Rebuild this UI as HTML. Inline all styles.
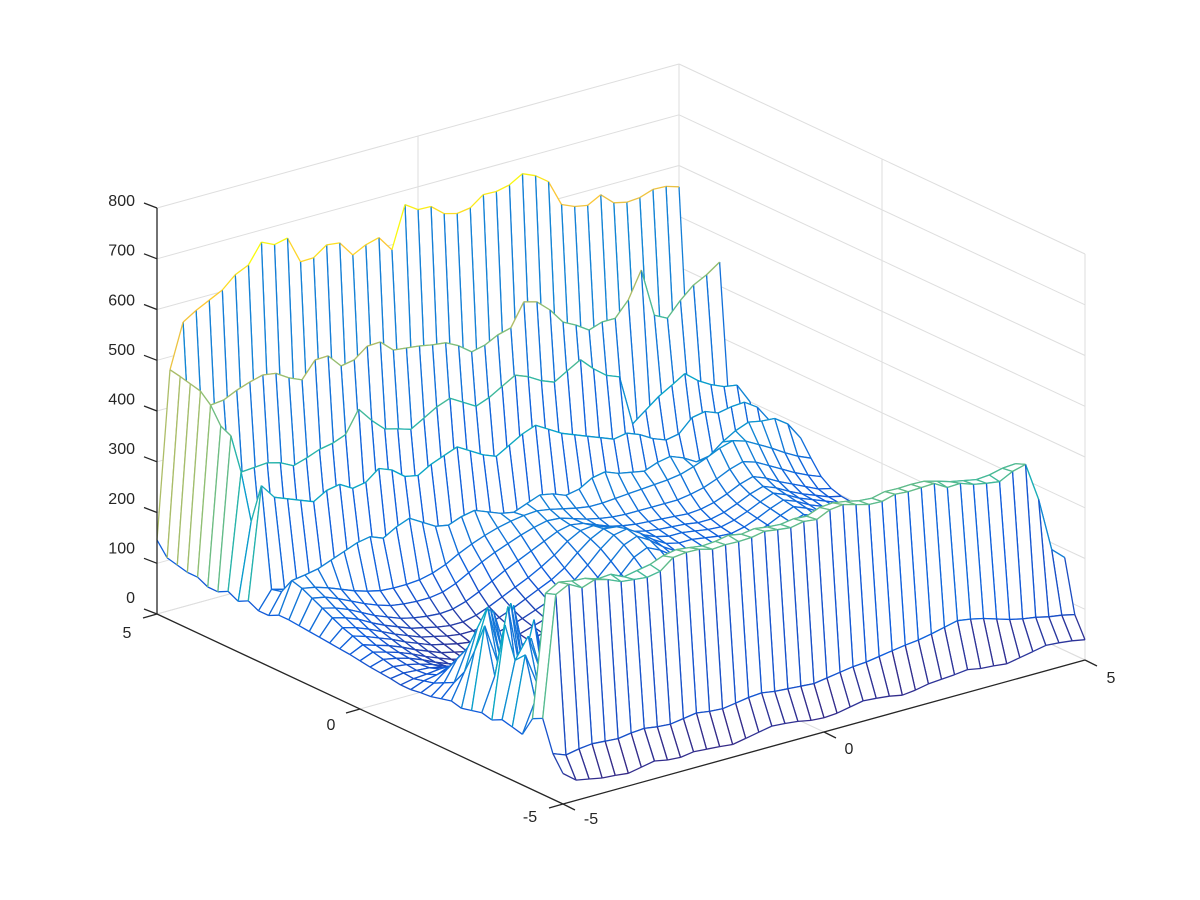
<!DOCTYPE html>
<html><head><meta charset="utf-8"><title>3D mesh surface</title>
<style>
html,body{margin:0;padding:0;background:#fff;}
svg{display:block;font-family:"Liberation Sans",Arial,sans-serif;}
</style></head>
<body>
<svg id="chart" width="1200" height="900" viewBox="0 0 1200 900" xmlns="http://www.w3.org/2000/svg">
<rect x="0" y="0" width="1200" height="900" fill="#fff"/>
<g id="grid"></g>
<g id="mesh"></g>
<g id="axes"></g>
</svg>
<script>
const xTicks = [-5, 0, 5];
const yTicks = [-5, 0, 5];
const zTicks = [0, 100, 200, 300, 400, 500, 600, 700, 800];
const xRange = [-5, 5];
const yRange = [-5, 5];
const zRange = [0, 800];
const zRows = [
[60,40,35,30,28,25,30,35,30,28,32,30,28,25,30,35,40,38,35,30,28,30,35,40,38,35,30,33,38,40,42,45,40,38,35,40,45,50,48,45,40],
[90,80,85,88,86,84,88,90,86,84,88,92,88,86,90,94,96,92,90,88,86,90,94,98,100,104,108,112,115,120,126,132,128,122,114,106,100,96,90,86,80],
[150,387,400,386,395,388,377,374,371,376,396,399,398,391,393,392,393,398,394,391,396,393,405,408,401,394,393,400,398,399,400,385,386,377,372,368,381,388,312,206,183],
[140,380,395,390,388,380,382,370,375,380,390,395,392,388,390,395,390,394,390,388,392,390,400,402,398,392,390,396,395,396,395,388,380,375,370,372,378,380,300,200,175],
[100,160,200,150,110,85,70,62,58,60,62,66,60,56,52,56,60,64,68,72,70,66,62,68,76,86,96,92,88,84,80,88,96,106,116,112,106,98,92,88,84],
[105,240,170,210,130,95,72,64,56,58,64,68,62,57,52,57,61,66,70,74,71,66,61,69,78,88,98,94,89,85,81,89,98,108,118,114,108,99,94,89,84],
[110,220,260,180,120,90,70,60,55,60,65,70,60,55,50,55,60,65,70,75,70,65,60,70,80,90,100,95,90,85,80,90,100,110,120,115,110,100,95,90,85],
[100,280,150,240,140,100,80,70,60,55,60,65,70,62,58,60,62,68,72,70,66,62,70,80,90,95,100,110,105,100,95,100,110,120,125,120,115,110,100,95,90],
[105,170,300,160,260,120,90,75,68,62,58,60,66,70,65,60,65,70,75,80,78,72,75,85,95,105,110,115,110,105,100,110,120,130,135,130,120,115,105,100,95],
[100,260,180,290,150,220,100,80,72,65,60,62,68,72,70,66,70,75,80,85,82,78,80,90,100,110,120,125,118,112,108,118,130,140,145,138,128,120,110,105,100],
[95,200,280,170,270,140,110,85,75,68,62,60,64,70,74,70,74,80,85,90,88,84,86,95,105,115,125,130,125,118,115,125,138,150,155,145,135,125,115,110,105],
[100,150,230,260,160,200,120,90,78,70,64,62,66,72,78,75,78,85,90,95,92,88,92,100,110,120,130,135,130,125,122,130,145,160,165,155,140,130,120,115,110],
[95,120,180,220,240,150,110,95,82,72,66,64,68,75,80,78,82,90,95,100,98,92,96,105,115,125,135,140,136,130,128,136,150,165,170,160,145,135,125,118,112],
[90,110,150,170,200,180,120,100,85,75,68,66,70,78,84,82,86,94,100,105,102,96,100,110,120,130,140,146,142,136,132,140,155,168,172,162,148,138,128,120,115],
[88,100,120,140,150,140,115,100,88,78,70,68,72,80,86,85,90,98,104,110,106,100,105,115,125,135,145,150,146,140,136,145,158,170,175,165,150,140,130,122,118],
[85,95,100,110,105,95,85,75,65,55,50,48,52,58,64,66,72,80,84,90,96,100,104,100,96,92,95,98,94,90,88,92,98,104,108,102,96,92,88,84,80],
[85,90,92,95,90,80,70,60,50,45,42,40,45,50,56,60,66,72,78,86,94,102,108,104,98,94,96,100,96,92,90,95,102,110,112,106,98,94,90,86,82],
[88,92,90,88,82,72,62,52,45,40,38,36,40,46,52,58,62,68,76,86,98,110,118,112,104,98,100,104,100,96,94,98,106,116,120,112,104,98,94,88,84],
[90,95,92,86,78,68,58,48,42,36,34,32,36,42,50,56,60,66,74,88,104,120,130,122,110,102,104,108,104,100,98,104,112,122,128,118,108,102,96,90,86],
[92,100,95,88,78,66,56,46,40,34,30,30,34,40,48,55,60,66,76,92,112,132,145,135,120,108,108,112,108,104,102,108,118,128,136,126,114,106,100,94,88],
[95,105,98,90,80,68,58,48,42,36,32,32,36,42,50,58,64,72,84,100,124,150,162,150,132,116,112,116,112,108,106,112,122,134,142,132,120,110,104,96,90],
[98,110,102,94,84,72,62,52,46,40,36,36,40,46,54,62,70,80,94,115,140,165,175,160,140,124,118,120,116,112,110,116,126,138,148,138,124,114,106,98,92],
[100,118,110,100,90,78,68,58,52,46,42,42,46,52,60,70,80,92,108,130,155,175,180,165,145,130,124,124,120,116,114,120,130,142,152,142,128,118,110,100,94],
[102,125,118,108,96,84,74,64,58,52,48,48,52,60,70,82,94,106,122,145,165,178,175,160,145,134,128,128,124,120,118,124,134,146,156,146,132,122,112,102,96],
[104,135,128,118,104,92,82,72,66,60,56,56,62,72,84,96,108,122,138,158,172,175,165,152,142,136,132,130,128,124,124,130,140,152,160,150,136,124,114,104,98],
[106,145,138,128,115,102,92,82,76,72,70,72,80,92,106,120,132,144,156,168,174,170,160,150,144,140,138,136,134,132,134,140,150,162,170,160,146,134,122,110,104],
[108,155,150,140,128,116,106,98,94,92,92,96,106,120,134,146,156,166,174,180,178,170,162,156,152,150,150,150,150,150,154,160,170,182,190,182,168,154,140,128,118],
[110,165,160,152,142,132,124,118,116,116,118,124,134,148,160,170,178,184,188,190,186,180,174,170,170,172,174,176,178,180,184,192,202,214,222,214,200,186,170,156,145],
[110,171,175,180,190,200,210,215,205,220,230,215,200,195,205,210,200,190,185,195,205,200,190,195,210,215,205,200,195,205,210,200,185,190,210,225,235,230,228,210,175],
[100,140,130,125,120,115,118,122,120,115,118,120,118,115,120,122,118,116,120,122,120,118,116,120,122,124,120,118,122,126,130,128,124,126,130,134,136,132,130,126,120],
[100,135,128,122,118,112,115,118,116,112,115,118,115,112,116,118,115,112,116,118,116,114,112,116,118,120,116,114,118,122,126,124,120,122,126,130,132,128,126,122,118],
[110,330,300,290,280,270,285,290,275,280,300,290,270,265,280,290,300,285,270,260,275,290,300,285,270,260,250,240,230,235,225,210,200,205,230,235,225,230,232,215,180],
[100,250,140,130,125,120,125,128,124,120,122,125,122,118,122,126,124,120,122,126,124,120,118,122,126,128,124,120,124,128,132,130,126,128,132,136,138,134,130,126,120],
[110,338,340,342,335,322,330,340,345,355,398,369,345,338,330,345,360,370,355,340,350,365,380,370,355,345,360,375,350,330,320,220,240,260,275,291,270,255,244,240,200],
[100,400,160,150,145,140,145,150,146,140,142,146,142,138,142,146,144,140,142,146,144,140,138,142,146,148,144,140,144,148,152,150,146,148,152,156,158,154,150,146,140],
[100,410,170,160,155,150,155,160,156,150,152,156,152,148,152,156,154,150,152,156,154,150,148,152,156,158,154,150,154,158,162,160,156,158,162,166,168,164,160,156,150],
[110,442,445,457,466,473,469,453,442,474,475,448,453,473,474,451,448,445,440,437,424,405,411,424,431,475,468,445,414,401,384,393,393,422,474,378,365,393,416,429,447],
[110,460,210,200,195,190,195,200,196,190,192,196,192,188,192,196,194,190,192,196,194,190,188,192,196,198,194,190,194,198,202,200,196,198,202,206,208,204,200,196,190],
[115,465,205,195,190,185,190,195,192,186,188,192,188,184,188,192,190,186,188,192,190,186,184,188,192,194,190,186,190,194,198,196,192,194,198,202,204,200,196,192,186],
[120,470,200,190,185,180,185,190,188,182,184,188,184,180,184,188,186,182,184,188,186,182,180,184,188,190,186,182,186,190,194,192,188,190,194,198,200,196,192,188,182],
[146,474,561,577,590,603,626,638,676,664,670,616,617,635,632,601,614,621,590,672,655,654,633,626,630,649,648,654,669,658,639,587,576,571,585,562,556,558,567,566,558]
];

const ORIGIN = {x: 563, y: 804};
const UX = {x: 522, y: -144};
const VY = {x: -406, y: -190};
const ZH = 406;
function proj(x, y, z) {
  const u = (x - xRange[0]) / (xRange[1] - xRange[0]);
  const v = (y - yRange[0]) / (yRange[1] - yRange[0]);
  const w = (z - zRange[0]) / (zRange[1] - zRange[0]);
  return [ORIGIN.x + UX.x * u + VY.x * v, ORIGIN.y + UX.y * u + VY.y * v - ZH * w];
}
const NS = "http://www.w3.org/2000/svg";
const nRows = zRows.length, nCols = zRows[0].length;
function gx(i) { return xRange[0] + (xRange[1] - xRange[0]) * i / (nCols - 1); }
function gy(j) { return yRange[0] + (yRange[1] - yRange[0]) * j / (nRows - 1); }
let zmin = Infinity, zmax = -Infinity;
zRows.forEach(r => r.forEach(z => { zmin = Math.min(zmin, z); zmax = Math.max(zmax, z); }));
const parula = [[53,42,135],[15,92,221],[20,129,214],[6,164,202],[46,183,164],[135,191,119],[209,187,89],[254,200,50],[249,251,14]];
function cmap(z) {
  let t = (z - zmin) / (zmax - zmin); t = Math.max(0, Math.min(1, t)) * (parula.length - 1);
  const k = Math.min(parula.length - 2, Math.floor(t)), f = t - k;
  const a = parula[k], b = parula[k + 1];
  return "rgb(" + Math.round(a[0] + (b[0] - a[0]) * f) + "," + Math.round(a[1] + (b[1] - a[1]) * f) + "," + Math.round(a[2] + (b[2] - a[2]) * f) + ")";
}
function line(parent, p, q, color, w, name) {
  const l = document.createElementNS(NS, "line");
  l.setAttribute("x1", p[0].toFixed(1)); l.setAttribute("y1", p[1].toFixed(1));
  l.setAttribute("x2", q[0].toFixed(1)); l.setAttribute("y2", q[1].toFixed(1));
  l.setAttribute("stroke", color); l.setAttribute("stroke-width", w);
  
  
  parent.appendChild(l);
  return l;
}

const grid = document.getElementById("grid");
const gc = "#dedede";
zTicks.forEach(z => {
  line(grid, proj(xRange[0], yRange[1], z), proj(xRange[1], yRange[1], z), gc, 1, "grid-line-z");
  line(grid, proj(xRange[1], yRange[1], z), proj(xRange[1], yRange[0], z), gc, 1, "grid-line-z");
});
xTicks.forEach(x => {
  line(grid, proj(x, yRange[1], zRange[0]), proj(x, yRange[1], zRange[1]), gc, 1, "grid-line-x");
  line(grid, proj(x, yRange[0], zRange[0]), proj(x, yRange[1], zRange[0]), gc, 1, "grid-line-x");
});
yTicks.forEach(y => {
  line(grid, proj(xRange[1], y, zRange[0]), proj(xRange[1], y, zRange[1]), gc, 1, "grid-line-y");
  line(grid, proj(xRange[0], y, zRange[0]), proj(xRange[1], y, zRange[0]), gc, 1, "grid-line-y");
});

const mesh = document.getElementById("mesh");
const cells = [];
for (let j = 0; j < nRows - 1; j++) for (let i = 0; i < nCols - 1; i++) cells.push([i, j]);
cells.sort((a, b) => (b[0] + b[1]) - (a[0] + a[1]));
const P = (i, j) => proj(gx(i), gy(j), zRows[j][i]);
cells.forEach(([i, j]) => {
  const p00 = P(i, j), p10 = P(i + 1, j), p11 = P(i + 1, j + 1), p01 = P(i, j + 1);
  const g = document.createElementNS(NS, "g");
  
  
  const poly = document.createElementNS(NS, "polygon");
  poly.setAttribute("points", [p00, p10, p11, p01].map(p => p[0].toFixed(1) + "," + p[1].toFixed(1)).join(" "));
  poly.setAttribute("fill", "#fff");
  
  
  g.appendChild(poly);
  line(g, p00, p01, cmap(zRows[j][i]), 1.3, "mesh-edge");
  line(g, p10, p11, cmap(zRows[j][i + 1]), 1.3, "mesh-edge");
  line(g, p00, p10, cmap(zRows[j][i + 1]), 1.3, "mesh-edge");
  line(g, p01, p11, cmap(zRows[j + 1][i + 1]), 1.3, "mesh-edge");
  mesh.appendChild(g);
});

const axes = document.getElementById("axes");
const ac = "#262626";
line(axes, proj(xRange[0], yRange[1], zRange[0]), proj(xRange[0], yRange[0], zRange[0]), ac, 1.3, "y-axis-line");
line(axes, proj(xRange[0], yRange[0], zRange[0]), proj(xRange[1], yRange[0], zRange[0]), ac, 1.3, "x-axis-line");
line(axes, proj(xRange[0], yRange[1], zRange[0]), proj(xRange[0], yRange[1], zRange[1]), ac, 1.3, "z-axis-line");
function text(str, x, y, anchor, name) {
  const t = document.createElementNS(NS, "text");
  t.setAttribute("x", x); t.setAttribute("y", y);
  t.setAttribute("text-anchor", anchor);
  t.setAttribute("font-size", "16"); t.setAttribute("fill", ac);
  
  
  t.textContent = str;
  axes.appendChild(t);
}
zTicks.forEach(z => {
  const p = proj(xRange[0], yRange[1], z);
  line(axes, [p[0] - 13, p[1] - 5], p, ac, 1.3, "z-tick");
  const ly = 200 + (597 - 200) * (800 - z) / 800;
  text(String(z), 135, ly + 6, "end", "z-tick-label");
});
yTicks.forEach(y => {
  const p = proj(xRange[0], y, zRange[0]);
  line(axes, [p[0] - 14, p[1] + 4], p, ac, 1.3, "y-tick");
});
xTicks.forEach(x => {
  const p = proj(x, yRange[0], zRange[0]);
  line(axes, p, [p[0] + 12, p[1] + 6], ac, 1.3, "x-tick");
});
text("5", 127, 638, "middle", "y-tick-label");
text("0", 331, 730, "middle", "y-tick-label");
text("-5", 530, 822, "middle", "y-tick-label");
text("-5", 591, 824, "middle", "x-tick-label");
text("0", 849, 754, "middle", "x-tick-label");
text("5", 1111, 683, "middle", "x-tick-label");
</script>
</body></html>
